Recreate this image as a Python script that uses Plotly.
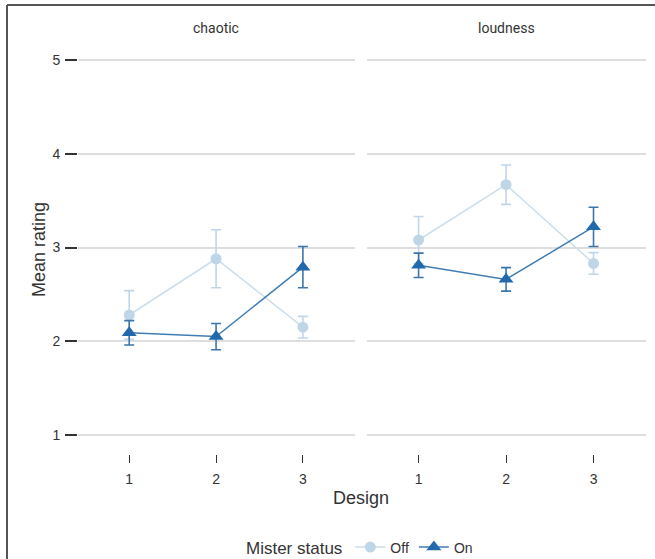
import plotly.graph_objects as go

designs = [1, 2, 3]
panels = ["chaotic", "loudness"]

# Mean ratings and error half-widths
chaotic_off = [2.28, 2.88, 2.15]
chaotic_off_err = [0.26, 0.31, 0.115]
chaotic_on = [2.09, 2.05, 2.79]
chaotic_on_err = [0.13, 0.14, 0.22]

loud_off = [3.08, 3.67, 2.83]
loud_off_err = [0.25, 0.21, 0.115]
loud_on = [2.81, 2.66, 3.22]
loud_on_err = [0.13, 0.125, 0.21]

y_ticks = [1, 2, 3, 4, 5]

W, H = 655, 559
OFF_C = "#bfd6e8"
OFF_LINE = "#cadeec"
ON_C = "#2268ad"
ON_LINE = "#3f7db4"
ON_ERR = "#3a76ad"
FONT = "Liberation Sans"
TXT = "#333333"

fig = go.Figure()

def add_series(xaxis, yaxis, y, err, name, color, line_color, err_color, symbol, size, show):
    fig.add_trace(go.Scatter(
        x=designs, y=y, mode="lines+markers", name=name,
        xaxis=xaxis, yaxis=yaxis, legendgroup=name, showlegend=show,
        line=dict(color=line_color, width=1.5),
        marker=dict(color=color, symbol=symbol, size=size),
        error_y=dict(type="data", array=err, color=err_color, thickness=1.6, width=5),
    ))

add_series("x", "y", chaotic_off, chaotic_off_err, "Off", OFF_C, OFF_LINE, OFF_C, "circle", 11, True)
add_series("x", "y", chaotic_on, chaotic_on_err, "On", ON_C, ON_LINE, ON_ERR, "triangle-up", 13, True)
add_series("x2", "y2", loud_off, loud_off_err, "Off", OFF_C, OFF_LINE, OFF_C, "circle", 11, False)
add_series("x2", "y2", loud_on, loud_on_err, "On", ON_C, ON_LINE, ON_ERR, "triangle-up", 13, False)

def px_x(p):
    return p / W

def px_y(p):
    return 1 - p / H

y_bottom = px_y(453.75)
y_top = px_y(41.25)

xcommon = dict(range=[0.41, 3.6], tickvals=designs, ticktext=[str(d) for d in designs],
               showgrid=False, zeroline=False, showline=False,
               ticks="outside", ticklen=8, tickwidth=1.3, tickcolor=TXT,
               ticklabelstandoff=4,
               tickfont=dict(family=FONT, size=14, color=TXT))
ycommon = dict(range=[0.8, 5.2], tickvals=y_ticks, showgrid=True, gridcolor="#dedede",
               gridwidth=1.5, zeroline=False, showline=False,
               domain=[y_bottom, y_top])

fig.update_layout(
    width=W, height=H,
    margin=dict(l=0, r=0, t=0, b=0, autoexpand=False),
    paper_bgcolor="white", plot_bgcolor="white",
    xaxis=dict(domain=[px_x(78), px_x(355)], anchor="y", **xcommon),
    xaxis2=dict(domain=[px_x(367), px_x(646)], anchor="y2", **xcommon),
    yaxis=dict(anchor="x", ticks="outside", ticklen=12, tickwidth=1.5, tickcolor=TXT,
               ticklabelstandoff=2,
               tickfont=dict(family=FONT, size=14, color=TXT), **ycommon),
    yaxis2=dict(anchor="x2", matches="y", showticklabels=False, ticks="", **ycommon),
    legend=dict(orientation="h", x=px_x(361), xanchor="center", y=px_y(548), yanchor="middle",
                title=dict(text="Mister status", font=dict(family=FONT, size=17, color=TXT), side="left"),
                font=dict(family=FONT, size=14, color=TXT),
                itemwidth=30, tracegroupgap=0, bgcolor="rgba(0,0,0,0)"),
    showlegend=True,
)

for name, xp in zip(panels, [216, 506]):
    fig.add_annotation(text=name, xref="paper", yref="paper", x=px_x(xp), y=px_y(28),
                       showarrow=False, xanchor="center", yanchor="middle",
                       font=dict(family="Roboto", size=14, color=TXT))

fig.add_annotation(text="Design", xref="paper", yref="paper", x=px_x(361), y=px_y(498),
                   showarrow=False, xanchor="center", yanchor="middle",
                   font=dict(family=FONT, size=18, color=TXT))
fig.add_annotation(text="Mean rating", xref="paper", yref="paper", x=px_x(39), y=px_y(250),
                   showarrow=False, xanchor="center", yanchor="middle", textangle=-90,
                   font=dict(family=FONT, size=18, color=TXT))

# image frame (left and top edges)
fig.add_shape(type="line", xref="paper", yref="paper", x0=px_x(7), x1=px_x(7), y0=0, y1=px_y(5),
              line=dict(color="#555555", width=2))
fig.add_shape(type="line", xref="paper", yref="paper", x0=px_x(7), x1=1, y0=px_y(5), y1=px_y(5),
              line=dict(color="#555555", width=2))

fig.write_html("out.html", config={"displayModeBar": False},
               post_script="document.body.style.margin='0';document.body.style.overflow='hidden';")
